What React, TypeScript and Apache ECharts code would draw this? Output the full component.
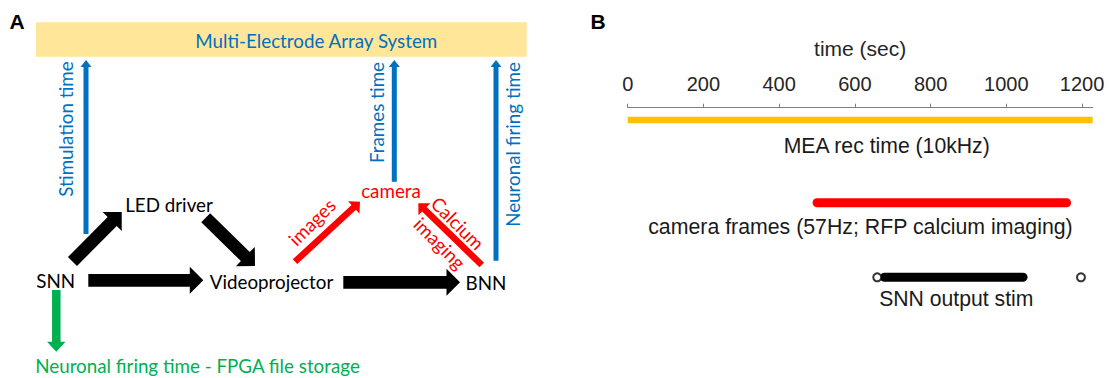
import React, { useEffect, useRef } from "react";
import * as echarts from "echarts";

// ---------- Panel B data (seconds) ----------
const timeTicks = [0, 200, 400, 600, 800, 1000, 1200];
const timeAxisMax = 1228;
const meaRecording = [0, 1228];
const cameraFrames = [500, 1159];
const snnStimBurst = [678, 1044];
const snnStimIsolated = [659, 1197];

// ---------- layout constants ----------
const TRACK = { mea: 12.3, camera: 95, snn: 169.6 };
const FONT_A = "Lato, 'Open Sans', sans-serif";
const FONT_B = "'Liberation Sans', Arial, sans-serif";
const BLUE = "#0070C0";
const RED = "#FF0000";
const GREEN = "#00B050";
const BLACK = "#000000";

function blockArrow(
  x1: number, y1: number, x2: number, y2: number,
  shaft: number, headW: number, headL: number, fill: string
) {
  const dx = x2 - x1, dy = y2 - y1;
  const len = Math.hypot(dx, dy);
  const ux = dx / len, uy = dy / len;
  const px = -uy, py = ux;
  const bx = x2 - ux * headL, by = y2 - uy * headL;
  const s = shaft / 2, h = headW / 2;
  const points = [
    [x1 + px * s, y1 + py * s],
    [bx + px * s, by + py * s],
    [bx + px * h, by + py * h],
    [x2, y2],
    [bx - px * h, by - py * h],
    [bx - px * s, by - py * s],
    [x1 - px * s, y1 - py * s],
  ];
  return { type: "polygon", shape: { points }, style: { fill }, silent: true };
}

function label(
  text: string, x: number, y: number, fill: string, fontSize: number,
  fontFamily: string, rotation = 0, fontWeight = "normal", align = "center"
) {
  return {
    type: "text",
    x, y, rotation,
    silent: true,
    style: {
      text, fill, fontSize, fontFamily, fontWeight,
      align, textAlign: align,
      verticalAlign: "middle", textVerticalAlign: "middle",
    },
  };
}

export default function App() {
  const ref = useRef<HTMLDivElement>(null);

  useEffect(() => {
    if (!ref.current) return;
    const chart = echarts.init(ref.current, undefined, { renderer: "svg" });
    const fsA = 18.8;

    const graphics: any[] = [
      // Panel labels
      label("A", 17, 21, BLACK, 21, FONT_B, 0, "bold"),
      label("B", 598, 21, BLACK, 21, FONT_B, 0, "bold"),
      // MEA box
      { type: "rect", shape: { x: 36, y: 22.3, width: 490.7, height: 34.4 }, style: { fill: "#FFE699" }, silent: true },
      label("Multi-Electrode Array System", 316.3, 40, BLUE, fsA, FONT_A),
      // Blue arrows
      blockArrow(86, 234, 86, 60, 5, 11, 7, BLUE),
      blockArrow(394.3, 181.7, 394.3, 60, 5, 11, 7, BLUE),
      blockArrow(496, 260.7, 496, 60, 5, 11, 7, BLUE),
      label("Stimulation time", 65, 129, BLUE, fsA, FONT_A, Math.PI / 2),
      label("Frames time", 376.7, 112.5, BLUE, fsA, FONT_A, Math.PI / 2),
      label("Neuronal firing time", 512.3, 144.5, BLUE, fsA, FONT_A, Math.PI / 2),
      // Black arrows
      blockArrow(72.5, 261.5, 121.7, 212, 12.7, 27, 13.5, BLACK),
      blockArrow(205.7, 217.7, 255, 266, 12.7, 27, 13.5, BLACK),
      blockArrow(88.3, 280.3, 203.3, 280.3, 12.7, 27, 13.5, BLACK),
      blockArrow(343.3, 282.3, 460, 282.3, 12.7, 27, 13.5, BLACK),
      // Red arrows
      blockArrow(295, 261.7, 360, 201.7, 6.5, 17, 8.5, RED),
      blockArrow(481.7, 265, 418.3, 203.3, 6.5, 17, 8.5, RED),
      // Green arrow
      blockArrow(56.3, 290, 56.3, 351.7, 8.5, 18.5, 10, GREEN),
      // Node labels
      label("LED driver", 169, 204, BLACK, fsA, FONT_A),
      label("SNN", 55.7, 280, BLACK, fsA, FONT_A),
      label("Videoprojector", 271.5, 281, BLACK, fsA, FONT_A),
      label("BNN", 486, 282, BLACK, fsA, FONT_A),
      label("camera", 391, 190, RED, fsA, FONT_A),
      label("images", 311.7, 221.7, RED, fsA, FONT_A, Math.PI / 4),
      label("Calcium", 458, 223, RED, fsA, FONT_A, -Math.PI / 4),
      label("imaging", 440, 243, RED, fsA, FONT_A, -Math.PI / 4),
      label("Neuronal firing time - FPGA file storage", 197.5, 365.7, GREEN, fsA, FONT_A),
      // Panel B track labels
      label("MEA rec time (10kHz)", 886.7, 145, "#1a1a1a", 21.2, FONT_B),
      label("camera frames (57Hz; RFP calcium imaging)", 1072.7, 226.7, "#1a1a1a", 21.3, FONT_B, 0, "normal", "right"),
      label("SNN output stim", 956.3, 298.3, "#1a1a1a", 21.2, FONT_B),
    ];

    chart.setOption({
      animation: false,
      grid: { left: 627.7, right: 26.3, top: 107.7, height: 200, containLabel: false },
      xAxis: {
        type: "value",
        position: "top",
        min: 0,
        max: timeAxisMax,
        axisLine: { show: true, lineStyle: { color: "#7f7f7f", width: 1 } },
        axisTick: { show: true, customValues: timeTicks, length: 4, lineStyle: { color: "#7f7f7f" } },
        axisLabel: {
          customValues: timeTicks,
          formatter: (v: number) => String(v),
          fontSize: 20,
          color: "#262626",
          fontFamily: FONT_B,
          margin: 14,
        },
        splitLine: { show: false },
        name: "time (sec)",
        nameLocation: "middle",
        nameGap: 49,
        nameTextStyle: { fontSize: 21, color: "#262626", fontFamily: FONT_B },
      },
      yAxis: { type: "value", min: 0, max: 200, inverse: true, show: false },
      series: [
        {
          type: "line",
          data: meaRecording.map((t) => [t, TRACK.mea]),
          symbol: "none",
          lineStyle: { color: "#FFC000", width: 6.5, cap: "butt" },
          silent: true,
        },
        {
          type: "line",
          data: cameraFrames.map((t) => [t, TRACK.camera]),
          symbol: "none",
          lineStyle: { color: RED, width: 9, cap: "round" },
          silent: true,
        },
        {
          type: "line",
          data: snnStimBurst.map((t) => [t, TRACK.snn]),
          symbol: "none",
          lineStyle: { color: BLACK, width: 9, cap: "round" },
          silent: true,
        },
        {
          type: "scatter",
          data: snnStimIsolated.map((t) => [t, TRACK.snn]),
          symbol: "circle",
          symbolSize: 8,
          itemStyle: { color: "#ffffff", borderColor: BLACK, borderWidth: 2 },
          z: 5,
          silent: true,
        },
      ],
      graphic: { elements: graphics },
    });

    return () => chart.dispose();
  }, []);

  return (
    <div
      ref={ref}
      style={{ position: "fixed", left: 0, top: 0, width: 1119, height: 378, background: "#fff" }}
    />
  );
}
